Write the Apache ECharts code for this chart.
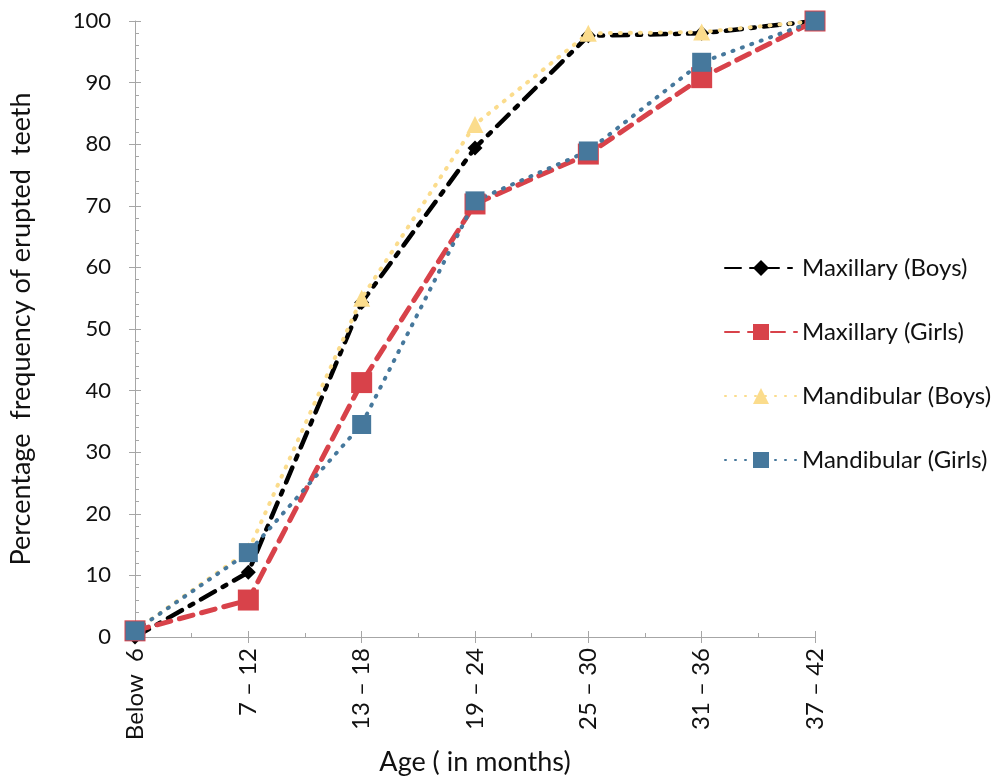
<!DOCTYPE html>
<html>
<head>
<meta charset="utf-8">
<script src="https://cdn.jsdelivr.net/npm/echarts@6/dist/echarts.min.js"></script>
<style>
  html, body { margin: 0; padding: 0; background: #fff; }
  #main { width: 993px; height: 784px; }
</style>
</head>
<body>
<div id="main"></div>
<script>
// age groups (x axis)
const ages = ['Below  6', '7 \u2013 12', '13 \u2013 18', '19 \u2013 24', '25 \u2013 30', '31 \u2013 36', '37 \u2013 42']

// percentage frequency of erupted teeth
const maxillaryBoys = [0, 10.5, 54.3, 79.4, 97.6, 98, 100]
const maxillaryGirls = [1, 6, 41.3, 70.3, 78.4, 90.8, 100]
const mandibularBoys = [1, 14, 55, 83.2, 98, 98.2, 100]
const mandibularGirls = [1, 13.7, 34.5, 70.8, 78.9, 93.3, 100]

const FONT = 'Lato'
const TXT = '#111'

function pairs(vals){
    return vals.map((v, i) => [i, v])
}

const chart = echarts.init(document.getElementById('main'))

const axisGrey = '#a6a6a6'

const options = {
    animation: false,
    backgroundColor: '#fff',
    grid: { left: 133, right: 178, top: 21, bottom: 147 },
    legend: {
        orient: 'vertical',
        left: 719,
        top: 251,
        itemWidth: 72,
        itemHeight: 20,
        itemGap: 40,
        textStyle: { fontFamily: FONT, fontSize: 24, color: TXT },
        data: ['Maxillary (Boys)', 'Maxillary (Girls)', 'Mandibular (Boys)', 'Mandibular (Girls)']
    },
    xAxis: [{
        type: 'value',
        min: 0, max: 6, interval: 1,
        position: 'bottom',
        name: 'Age ( in months)',
        nameLocation: 'middle',
        nameGap: 112,
        nameTextStyle: { fontFamily: FONT, fontSize: 27, color: TXT },
        axisLine: { lineStyle: { color: axisGrey, width: 1 } },
        axisTick: { show: true, length: 6, lineStyle: { color: axisGrey } },
        splitLine: { show: false },
        axisLabel: {
            rotate: 90,
            margin: 11,
            fontFamily: FONT, fontSize: 24, color: TXT,
            formatter: v => ages[v] || ''
        }
    }, {
        // inner half of the crossing ticks and the minor ticks
        type: 'value',
        min: 0, max: 6, interval: 1,
        position: 'bottom',
        axisLine: { show: false },
        axisTick: { show: true, inside: true, length: 6, lineStyle: { color: axisGrey } },
        minorTick: { show: true, splitNumber: 2, length: 4, lineStyle: { color: axisGrey } },
        axisLabel: { show: false },
        splitLine: { show: false }
    }],
    yAxis: [{
        type: 'value',
        min: 0, max: 100, interval: 10,
        position: 'left',
        name: 'Percentage  frequency of erupted  teeth',
        nameLocation: 'middle',
        nameGap: 100,
        nameTextStyle: { fontFamily: FONT, fontSize: 27, color: TXT },
        axisLine: { show: true, lineStyle: { color: axisGrey, width: 1 } },
        axisTick: { show: true, length: 6, lineStyle: { color: axisGrey } },
        splitLine: { show: false },
        axisLabel: { margin: 24, fontFamily: FONT, fontSize: 22, color: TXT }
    }, {
        type: 'value',
        min: 0, max: 100, interval: 10,
        position: 'left',
        axisLine: { show: false },
        axisTick: { show: true, inside: true, length: 6, lineStyle: { color: axisGrey } },
        minorTick: { show: true, splitNumber: 5, length: 4, lineStyle: { color: axisGrey } },
        axisLabel: { show: false },
        splitLine: { show: false }
    }],
    series: [{
        name: 'Maxillary (Boys)',
        type: 'line',
        data: pairs(maxillaryBoys),
        symbol: 'diamond',
        symbolSize: 15,
        itemStyle: { color: '#000' },
        lineStyle: { color: '#000', width: 4.5, type: [16, 9, 4, 9], cap: 'round' }
    }, {
        name: 'Maxillary (Girls)',
        type: 'line',
        data: pairs(maxillaryGirls),
        symbol: 'rect',
        symbolSize: 21,
        itemStyle: { color: '#d8424a' },
        lineStyle: { color: '#d8424a', width: 5, type: [14, 9], cap: 'round' }
    }, {
        name: 'Mandibular (Boys)',
        type: 'line',
        data: pairs(mandibularBoys),
        symbol: 'triangle',
        symbolSize: 17,
        itemStyle: { color: '#fbdc8c' },
        lineStyle: { color: '#fbdc8c', width: 4, type: [1, 9], cap: 'round' }
    }, {
        name: 'Mandibular (Girls)',
        type: 'line',
        data: pairs(mandibularGirls),
        symbol: 'rect',
        symbolSize: 19,
        itemStyle: { color: '#46789c' },
        lineStyle: { color: '#46789c', width: 4, type: [1, 9], cap: 'round' }
    }]
}

chart.setOption(options)
</script>
</body>
</html>
